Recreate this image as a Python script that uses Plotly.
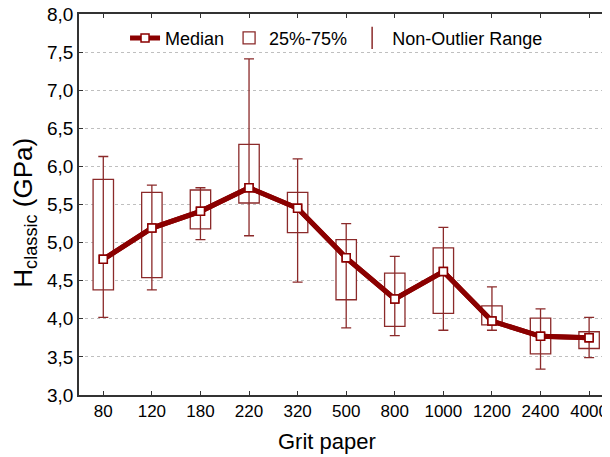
import plotly.graph_objects as go

grit = ["80", "120", "180", "220", "320", "500", "800", "1000", "1200", "2400", "4000"]
median = [4.78, 5.19, 5.41, 5.72, 5.45, 4.80, 4.26, 4.62, 3.97, 3.77, 3.75]
q1 = [4.38, 4.54, 5.18, 5.52, 5.13, 4.25, 3.90, 4.07, 3.92, 3.54, 3.61]
q3 = [5.83, 5.66, 5.69, 6.29, 5.66, 5.04, 4.60, 4.93, 4.17, 4.01, 3.83]
low = [4.02, 4.38, 5.04, 5.09, 4.48, 3.88, 3.78, 3.85, 3.85, 3.34, 3.49]
high = [6.13, 5.755, 5.72, 7.41, 6.10, 5.25, 4.82, 5.20, 4.42, 4.13, 4.02]

ytick_vals = [3.0, 3.5, 4.0, 4.5, 5.0, 5.5, 6.0, 6.5, 7.0, 7.5, 8.0]
ytick_text = [f"{v:.1f}".replace(".", ",") for v in ytick_vals]

dark = "#8b0000"
boxc = "#8b2a2a"
font = "Liberation Sans, Arial, sans-serif"

fig = go.Figure()

# whiskers (behind boxes)
fig.add_trace(go.Scatter(
    x=grit, y=median, mode="markers",
    marker=dict(size=1, color="rgba(0,0,0,0)"),
    error_y=dict(type="data", symmetric=False,
                 array=[h - m for h, m in zip(high, median)],
                 arrayminus=[m - l for m, l in zip(median, low)],
                 color=boxc, thickness=1.3, width=5),
    showlegend=False, hoverinfo="skip"))

# median legend entry (drawn under boxes, real line redrawn on top)
fig.add_trace(go.Scatter(
    x=grit, y=median, mode="lines+markers", name="Median",
    line=dict(color=dark, width=5),
    marker=dict(symbol="square", size=8, color="white",
                line=dict(color=dark, width=1.5)),
    legendrank=1))

# boxes
fig.add_trace(go.Bar(
    x=grit, y=[b - a for a, b in zip(q1, q3)], base=q1, name="25%-75%",
    width=0.42, marker=dict(color="white", line=dict(color=boxc, width=1.3)),
    legendrank=2))

# legend entry for whisker
fig.add_trace(go.Scatter(
    x=[None], y=[None], mode="markers", name="Non-Outlier Range",
    marker=dict(symbol="line-ns-open", size=18, color=boxc,
                line=dict(color=boxc, width=1.5)),
    legendrank=3))

# median line on top of boxes
fig.add_trace(go.Scatter(
    x=grit, y=median, mode="lines+markers", showlegend=False,
    line=dict(color=dark, width=5),
    marker=dict(symbol="square", size=8, color="white",
                line=dict(color=dark, width=1.5)),
    hoverinfo="skip"))

# page body has an 8px margin, so the figure is sized to fill the rest
fig.update_layout(
    width=602, height=449,
    margin=dict(l=71, r=0, t=6, b=62),
    plot_bgcolor="white", paper_bgcolor="white",
    font=dict(family=font, size=18, color="black"),
    showlegend=True,
    legend=dict(orientation="h", x=0.485, xanchor="center", y=0.985, yanchor="top",
                bgcolor="rgba(0,0,0,0)", font=dict(size=18), itemwidth=30,
                tracegroupgap=0, traceorder="normal"),
    barmode="overlay",
    annotations=[
        dict(text="H<sub>classic</sub> (GPa)",
             xref="paper", yref="paper", x=-0.102, y=0.478,
             xanchor="center", yanchor="middle", textangle=-90,
             showarrow=False, font=dict(size=26, family=font, color="black")),
        dict(text="Grit paper",
             xref="paper", yref="paper", x=0.467, y=-0.121,
             xanchor="center", yanchor="middle",
             showarrow=False, font=dict(size=22, family=font, color="black")),
    ],
)
fig.update_xaxes(
    type="category", range=[-0.5, 10.43], automargin=False,
    ticklabeloverflow="allow",
    showline=True, linecolor="#333", linewidth=1.5, mirror="ticks",
    ticks="inside", ticklen=4, tickcolor="#333",
    showgrid=False, tickfont=dict(size=17))
fig.update_yaxes(
    range=[3.0, 8.0], tickvals=ytick_vals, ticktext=ytick_text, automargin=False,
    ticklabeloverflow="allow",
    showline=True, linecolor="#333", linewidth=1.5,
    ticks="inside", ticklen=4, tickcolor="#333",
    showgrid=True, gridcolor="#bfbfbf", griddash="dot", gridwidth=1,
    zeroline=False, tickfont=dict(size=19))

fig.write_html("out.html")
